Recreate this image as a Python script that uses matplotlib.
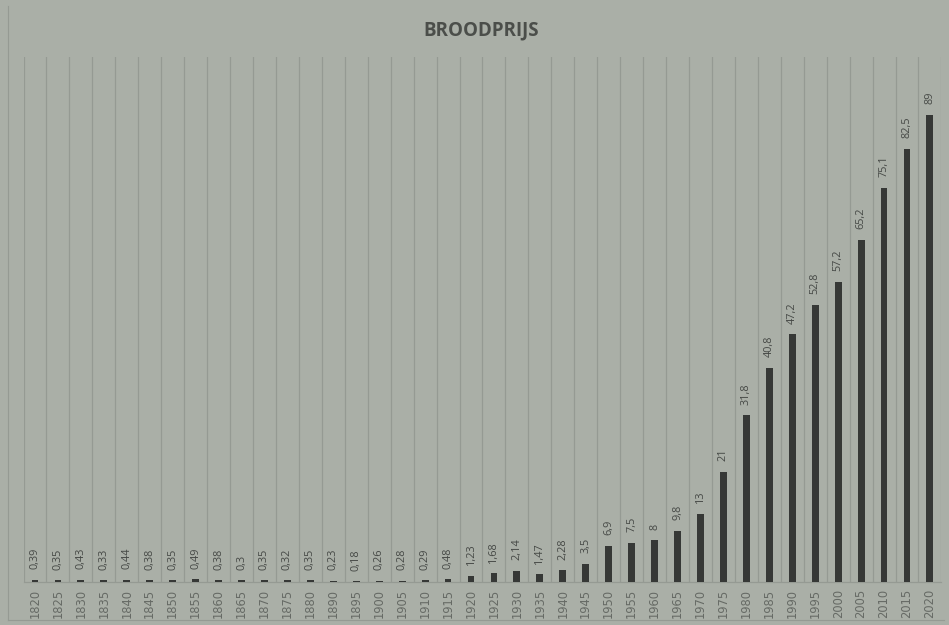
import matplotlib
matplotlib.use("Agg")
import matplotlib.pyplot as plt
import numpy as np
from matplotlib.lines import Line2D

years = ["1820", "1825", "1830", "1835", "1840", "1845", "1850", "1855", "1860", "1865",
         "1870", "1875", "1880", "1890", "1895", "1900", "1905", "1910", "1915", "1920",
         "1925", "1930", "1935", "1940", "1945", "1950", "1955", "1960", "1965", "1970",
         "1975", "1980", "1985", "1990", "1995", "2000", "2005", "2010", "2015", "2020"]
prices = [0.39, 0.35, 0.43, 0.33, 0.44, 0.38, 0.35, 0.49, 0.38, 0.3,
          0.35, 0.32, 0.35, 0.23, 0.18, 0.26, 0.28, 0.29, 0.48, 1.23,
          1.68, 2.14, 1.47, 2.28, 3.5, 6.9, 7.5, 8, 9.8, 13,
          21, 31.8, 40.8, 47.2, 52.8, 57.2, 65.2, 75.1, 82.5, 89]
labels = ["0,39", "0,35", "0,43", "0,33", "0,44", "0,38", "0,35", "0,49", "0,38", "0,3",
          "0,35", "0,32", "0,35", "0,23", "0,18", "0,26", "0,28", "0,29", "0,48", "1,23",
          "1,68", "2,14", "1,47", "2,28", "3,5", "6,9", "7,5", "8", "9,8", "13",
          "21", "31,8", "40,8", "47,2", "52,8", "57,2", "65,2", "75,1", "82,5", "89"]

bg = "#aaafa7"
grid = "#959a93"
plt.rcParams['font.family'] = ['Open Sans', 'DejaVu Sans']

fig = plt.figure(figsize=(9.49, 6.25), dpi=100, facecolor=bg)
ax = fig.add_axes([0.0248, 0.0688, 0.9672, 0.840])
ax.set_facecolor(bg)

x = np.arange(len(years))
ax.bar(x, prices, width=0.3, color="#363836", zorder=3)
for xi, v, lab in zip(x, prices, labels):
    ax.text(xi, v + 2.0, lab, rotation=90, ha="center", va="bottom",
            fontsize=7.8, color="#454845", zorder=4)

ax.set_xlim(-0.5, len(years) - 0.5)
ax.set_ylim(0, 100)
for b in np.arange(-0.5, len(years) + 0.5, 1):
    ax.axvline(b, color=grid, lw=0.9, zorder=1)

ax.set_xticks(x)
ax.set_xticklabels(years, rotation=90, fontsize=8.3, color="#666a65",
                   family="DejaVu Sans")
ax.tick_params(axis="x", length=0, pad=5)
ax.set_yticks([])
for s in ["top", "left", "right"]:
    ax.spines[s].set_visible(False)
ax.spines["bottom"].set_color(grid)
ax.spines["bottom"].set_linewidth(0.9)

fig.text(0.507, 0.951, "BROODPRIJS", ha="center", va="center",
         fontsize=13.5, fontweight="bold", color="#4b4e4a")

# outer frame
fig.add_artist(Line2D([0.008, 0.008], [0.008, 0.99], transform=fig.transFigure,
                      color=grid, lw=0.8))
fig.add_artist(Line2D([0.008, 0.995], [0.008, 0.008], transform=fig.transFigure,
                      color=grid, lw=0.8))

fig.savefig("out.png", dpi=100, facecolor=bg)
